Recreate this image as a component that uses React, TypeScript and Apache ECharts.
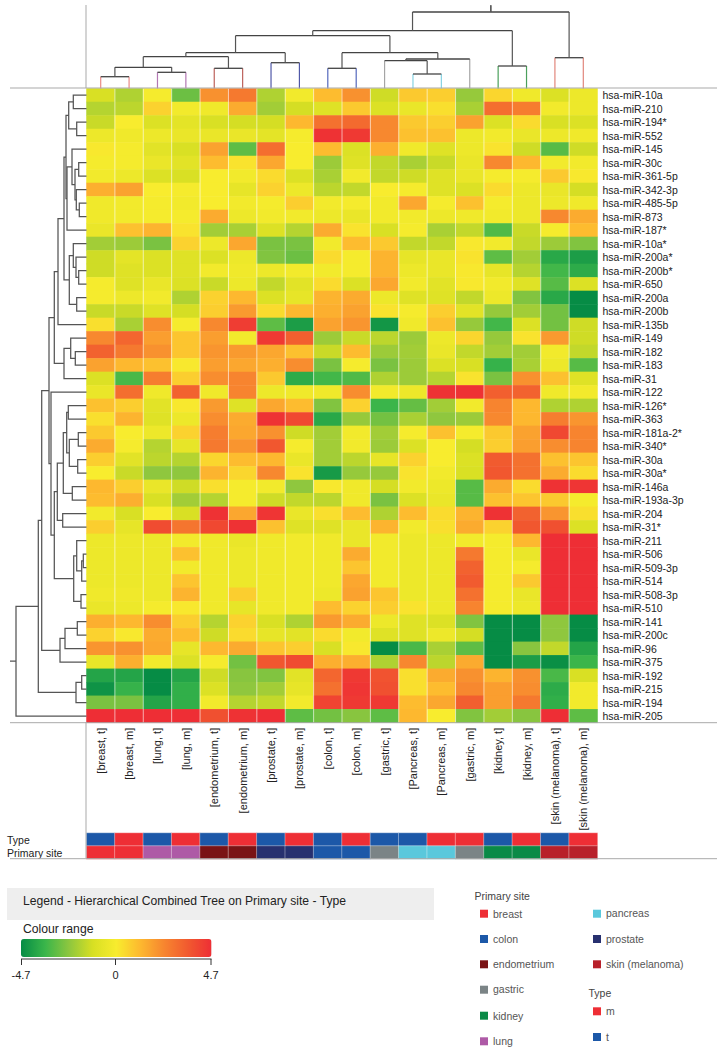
import React, { useEffect, useRef } from "react";
import * as echarts from "echarts";

const FONT = '"Liberation Sans", Arial, sans-serif';

const columnLabels = ["[breast, t]", "[breast, m]", "[lung, t]", "[lung, m]", "[endometrium, t]", "[endometrium, m]", "[prostate, t]", "[prostate, m]", "[colon, t]", "[colon, m]", "[gastric, t]", "[Pancreas, t]", "[Pancreas, m]", "[gastric, m]", "[kidney, t]", "[kidney, m]", "[skin (melanoma), t]", "[skin (melanoma), m]"];

const rowLabels = ["hsa-miR-10a", "hsa-miR-210", "hsa-miR-194*", "hsa-miR-552", "hsa-miR-145", "hsa-miR-30c", "hsa-miR-361-5p", "hsa-miR-342-3p", "hsa-miR-485-5p", "hsa-miR-873", "hsa-miR-187*", "hsa-miR-10a*", "hsa-miR-200a*", "hsa-miR-200b*", "hsa-miR-650", "hsa-miR-200a", "hsa-miR-200b", "hsa-miR-135b", "hsa-miR-149", "hsa-miR-182", "hsa-miR-183", "hsa-miR-31", "hsa-miR-122", "hsa-miR-126*", "hsa-miR-363", "hsa-miR-181a-2*", "hsa-miR-340*", "hsa-miR-30a", "hsa-miR-30a*", "hsa-miR-146a", "hsa-miR-193a-3p", "hsa-miR-204", "hsa-miR-31*", "hsa-miR-211", "hsa-miR-506", "hsa-miR-509-3p", "hsa-miR-514", "hsa-miR-508-3p", "hsa-miR-510", "hsa-miR-141", "hsa-miR-200c", "hsa-miR-96", "hsa-miR-375", "hsa-miR-192", "hsa-miR-215", "hsa-miR-194", "hsa-miR-205"];

const rowValues = [
  [-1.1, -1.8, -0.1, -2.8, 2.1, 2.7, -1.8, -0.2, 1.1, 2.1, -1.3, 0.8, 0.7, -2.2, 0.5, -0.3, -1.0, -0.4],
  [-1.7, -1.6, 0.6, -0.2, -0.3, 1.5, -2.0, -1.2, -0.9, 0.8, -1.0, -0.5, 0.3, -1.9, 3.0, 2.6, -0.2, -0.4],
  [-1.4, 0.0, -1.0, -0.7, -1.1, -1.2, -1.2, 1.2, 2.9, 3.1, 2.3, 0.8, 0.7, 1.7, -1.0, 0.4, -1.1, -1.0],
  [-0.4, -0.3, -0.4, -0.5, -0.5, -0.5, -0.7, -0.1, 4.6, 4.4, 2.3, 1.0, 1.0, -0.4, -0.2, -0.5, -0.4, -0.3],
  [0.1, -0.1, -0.8, -1.1, 1.7, -3.0, 3.0, 0.0, 1.1, -1.0, 1.4, -0.3, -0.9, -0.4, 0.2, -1.3, -3.1, -1.3],
  [-0.1, -0.1, -0.5, -0.8, 1.1, 0.2, 1.6, 0.0, -2.1, -0.9, -1.5, -1.9, -1.4, -0.5, 2.3, 1.2, -0.2, -0.2],
  [-0.2, -0.4, -1.0, -1.1, 0.0, -0.2, 0.4, -1.0, -1.9, -0.2, -1.5, -1.3, -0.9, -0.5, -0.1, -0.1, 0.8, 0.1],
  [1.4, 1.7, 0.0, -0.1, 0.0, -0.6, 0.6, -0.4, -1.6, -1.5, 0.0, -0.1, -0.9, -1.0, 0.4, -0.4, -0.5, -1.2],
  [-0.3, -0.2, -0.1, -0.2, 0.0, -0.2, -0.1, 0.7, -0.2, -0.1, -0.2, 1.6, -0.1, 1.0, -0.1, -0.4, -0.4, -0.3],
  [-0.3, -0.2, -0.1, -0.1, 1.5, -0.4, -0.2, -0.2, -0.4, -0.5, -0.2, -0.2, -0.4, -0.3, -0.2, -0.4, 2.3, 1.5],
  [-0.5, 1.0, 1.3, 0.2, -2.0, -1.9, -1.0, -1.7, 1.5, 0.2, -1.1, -0.1, -1.9, -1.5, -3.2, -1.4, -0.1, 1.1],
  [-2.0, -2.1, -2.6, 0.6, -0.4, 1.6, -2.6, -2.6, -0.2, 1.1, 0.8, -1.5, -1.5, 0.1, -0.2, -1.5, -2.1, -2.5],
  [-1.3, -0.7, -1.0, -0.9, -1.0, -0.4, -2.5, -2.8, 0.4, -0.1, 1.3, -0.6, -0.5, 0.2, -3.0, -2.0, -3.9, -4.2],
  [-1.3, -0.9, -1.0, -0.9, -0.2, -0.3, -0.4, -0.2, -0.2, -0.1, 1.3, -0.4, -0.5, 0.1, -0.6, -1.7, -3.4, -3.8],
  [-0.1, -0.9, -0.5, -1.0, -1.4, -0.4, -1.5, -0.8, 0.4, -1.0, 1.6, -0.2, -0.8, 0.1, -0.2, -0.9, -3.1, -1.0],
  [-0.1, -0.4, -0.2, -1.8, 0.6, 1.2, -1.0, -0.6, 1.3, 1.5, -0.4, -0.9, -0.9, -1.5, -0.4, -2.5, -3.9, -4.7],
  [-1.4, -1.4, -0.9, -1.2, 0.7, 1.9, 0.4, 1.2, 1.4, 1.7, 0.2, -0.1, 0.7, -0.8, -2.2, -2.0, -2.7, -4.7],
  [0.3, -1.9, 2.2, -0.1, 2.3, 4.3, -3.0, -4.2, 1.7, 2.0, -4.4, -0.3, 1.0, -2.2, -3.4, -1.0, -2.7, -1.3],
  [2.3, 3.2, 1.8, 0.9, 1.8, -0.2, 4.4, 3.4, -2.1, -1.4, -1.6, -2.1, -0.4, 0.5, -2.2, 0.2, 1.9, -1.3],
  [3.3, 2.7, 2.1, 0.9, 2.0, 1.9, 1.6, 1.0, -1.4, 1.1, -2.1, -2.0, -0.5, -1.5, -2.0, -2.0, -0.2, -1.5],
  [1.7, 1.2, 1.0, 0.1, 1.8, 1.6, 1.4, 2.2, -2.6, -0.1, -2.6, -2.1, -1.0, -1.1, -3.6, -1.9, -0.4, -3.1],
  [-1.0, -3.3, 2.6, 0.7, 2.2, 2.4, 0.8, -3.8, -3.4, -3.2, -1.8, -2.1, -1.7, 0.2, -2.6, 2.1, 1.0, -0.9],
  [-0.5, 3.0, -0.3, 3.3, -0.3, 2.4, -0.4, -0.3, -0.3, 2.2, -0.2, -0.4, 4.6, 4.6, 3.4, 3.3, -0.3, -0.2],
  [1.0, 0.7, -0.8, 0.1, 1.9, -0.9, 1.6, 1.1, -2.5, 0.6, -3.5, -2.9, -2.0, -0.2, 2.4, 1.2, -1.8, -1.8],
  [0.3, 1.3, -0.9, -0.4, 2.2, 1.5, 4.6, 4.0, -3.9, -2.2, -2.7, -1.9, -2.3, -2.1, 2.3, 1.2, 2.6, 2.0],
  [0.8, 0.0, -0.4, 0.6, 2.6, 1.6, 2.1, -1.3, -2.0, -0.2, -2.0, -0.1, 1.0, -0.1, 0.8, 1.7, 4.0, 2.4],
  [1.5, -0.1, -1.7, -0.6, 2.7, 2.0, 3.6, -0.1, -2.0, -0.2, -2.1, -1.0, 0.0, -1.2, 0.7, 1.8, 2.2, 2.4],
  [0.7, -0.8, -1.6, -1.7, 0.5, 1.1, 1.2, -0.5, -2.0, -1.6, -0.6, 0.6, 0.0, -1.0, 3.5, 2.9, 1.0, 0.9],
  [0.0, -1.4, -2.3, -2.3, 1.3, 0.5, 2.3, 0.2, -4.3, -2.2, -2.2, 0.2, -0.2, -1.1, 3.6, 2.9, 1.5, 0.4],
  [1.2, 0.7, -0.5, -1.3, 0.3, -0.1, -0.2, -2.3, 0.1, -0.3, -1.2, -0.2, -0.4, -3.1, 1.5, 0.4, 4.6, 4.5],
  [1.1, 1.4, -1.1, -2.0, -1.7, -0.1, -1.3, -1.5, -1.6, -0.3, -2.6, -1.0, -0.5, -3.1, 1.0, 0.9, 0.8, -0.1],
  [-0.2, -1.1, 0.0, -1.1, 4.6, 1.6, 4.5, -0.5, 0.3, 1.1, -1.8, 1.1, 0.4, 1.3, 4.6, 3.3, 2.0, 0.3],
  [0.7, -0.6, 3.9, 2.8, 4.0, 4.6, 1.0, -0.9, -0.9, -0.5, 1.3, -0.2, 0.3, 1.5, 0.6, 3.6, 3.8, -1.0],
  [-0.4, -0.4, -0.4, -0.2, -0.3, -0.5, -0.3, -0.2, -0.3, -0.5, -0.2, -0.4, -0.4, -0.2, -0.1, 1.2, 4.7, 4.7],
  [-0.4, -0.4, -0.4, 1.0, -0.3, -0.4, -0.3, -0.2, -0.3, 1.5, -0.2, -0.4, -0.4, 2.7, -0.1, -0.5, 4.7, 4.7],
  [-0.4, -0.4, -0.4, -0.2, -0.3, -0.4, -0.3, -0.2, -0.3, 0.9, -0.2, -0.4, -0.4, 3.3, -0.1, -0.1, 4.7, 4.7],
  [-0.4, -0.4, -0.4, 0.9, -0.3, -0.4, -0.3, -0.2, -0.3, 1.6, -0.2, -0.4, -0.4, 3.5, -0.1, 0.8, 4.7, 4.7],
  [-0.3, -0.3, -0.4, 1.3, -0.3, 0.7, -0.3, -0.2, -0.4, 1.7, 0.9, -0.4, -0.4, 2.9, -0.1, -0.5, 4.7, 4.7],
  [-0.5, -0.4, -0.1, 0.1, -0.3, -0.6, -0.3, -0.2, 1.1, 0.6, 0.7, 0.2, -0.4, 2.4, -0.1, -0.4, 4.7, 4.7],
  [1.4, 1.2, 2.2, 0.7, -1.7, 0.6, -1.1, -1.8, 1.9, 1.5, -0.4, -0.9, -1.0, -2.5, -4.7, -4.7, -2.3, -4.7],
  [0.6, 0.1, 1.5, 1.1, -1.3, 0.4, -0.6, -0.8, 0.4, -0.2, -0.9, -0.9, -0.4, -1.2, -4.7, -4.7, -2.3, -4.7],
  [2.0, 2.1, 1.6, -0.6, 1.2, 1.5, 0.9, 0.7, -1.1, 0.1, -4.7, -3.3, -1.9, -3.0, -4.7, -2.4, -1.5, -4.0],
  [-0.5, 1.4, -0.2, -1.0, -0.1, -2.7, 3.6, 3.9, 1.4, 1.4, -1.8, 2.3, -1.6, 1.5, -4.7, -4.2, -4.6, -3.5],
  [-4.0, -4.0, -4.7, -4.0, -1.3, -2.4, -2.5, -0.8, 3.2, 4.4, 3.7, 0.3, 1.5, 2.1, 1.3, 2.1, -3.3, -1.1],
  [-4.5, -3.6, -4.7, -3.7, -1.0, -2.3, -2.0, -0.6, 2.9, 4.5, 3.8, 0.3, 1.1, 2.3, 1.8, 2.2, -3.8, -0.2],
  [-2.6, -2.6, -4.0, -3.7, -0.2, -1.7, -1.5, -0.2, 4.1, 4.4, 4.4, 1.1, 1.6, 3.4, 1.8, 2.7, -3.7, -0.2],
  [4.7, 4.7, 4.7, 4.7, 3.8, 4.6, 4.7, -3.0, -2.7, -2.4, -3.0, 1.2, 0.0, -2.5, -2.0, -2.4, 4.7, -3.0],
];

const colourStops = ["#068c45", "#39b54a", "#8cc63f", "#d7df23", "#f8ec2e", "#fdb92f", "#f7862f", "#f15a2f", "#ee2e35"];
const colourMin = -4.7;
const colourMax = 4.7;

const siteNames = ["breast", "colon", "endometrium", "gastric", "kidney", "lung", "pancreas", "prostate", "skin (melanoma)"];
const siteColours = ["#ee2e35", "#1c58a8", "#7a1315", "#7b8486", "#0a8a47", "#ae5aa6", "#5ac8dc", "#27306f", "#b8202a"];
const typeNames = ["m", "t"];
const typeColours = ["#ee2e35", "#1c58a8"];

const columnTypes = ["t", "m", "t", "m", "t", "m", "t", "m", "t", "m", "t", "t", "m", "m", "t", "m", "t", "m"];
const columnSites = ["breast", "breast", "lung", "lung", "endometrium", "endometrium", "prostate", "prostate", "colon", "colon", "gastric", "pancreas", "pancreas", "gastric", "kidney", "kidney", "skin (melanoma)", "skin (melanoma)"];
const stripLabels = ["Type", "Primary site"];

// Column tree: [child, child, height, colour of leaf branches]; ids 0-17 are columns, 18+ are merges in order.
const columnMerges: [number, number, number, string][] = [
  [0, 1, 11.8, "#ea8a86"], [2, 3, 16.2, "#b478b4"], [18, 19, 21.2, "#555"], [4, 5, 20.2, "#bd625c"],
  [20, 21, 31.8, "#555"], [6, 7, 25.8, "#5058a8"], [22, 23, 35.8, "#555"], [8, 9, 20.2, "#5468bd"],
  [11, 12, 14.5, "#86d3e2"], [10, 26, 27.8, "#a5a5a5"], [27, 13, 29.5, "#a5a5a5"], [25, 28, 35.8, "#555"],
  [24, 29, 52.8, "#555"], [14, 15, 22.5, "#4ba05c"], [30, 31, 57.8, "#555"], [16, 17, 30.8, "#e2867c"],
  [32, 33, 76.5, "#555"],
];
const columnRootTop = 83.2;

// Row tree: [child, child, x of the join]; ids 0-46 are rows, 47+ are merges in order.
const rowMerges: [number, number, number][] = [
  [0, 1, 73.3], [2, 3, 76.7], [47, 48, 68.7], [5, 6, 78.7], [8, 9, 79.3], [7, 51, 76.3], [50, 52, 75], [4, 53, 72],
  [54, 10, 67], [49, 55, 66], [13, 14, 78.7], [12, 57, 76], [11, 58, 73.3], [15, 16, 76.7], [59, 60, 69.3],
  [56, 61, 64], [62, 17, 58], [19, 20, 75.3], [18, 64, 70.7], [65, 21, 64], [63, 66, 54.3], [23, 24, 68.3],
  [25, 26, 78.3], [27, 28, 77.7], [69, 70, 69.3], [68, 71, 66.7], [29, 30, 72.3], [72, 73, 63.3], [31, 32, 62.7],
  [74, 75, 57.3], [34, 35, 83.3], [77, 36, 81.7], [33, 78, 76.7], [37, 38, 81], [79, 80, 73.7], [76, 81, 54.3],
  [22, 82, 51], [67, 83, 49], [39, 40, 77.3], [85, 41, 65], [86, 42, 60], [84, 87, 41.7], [43, 44, 81.7],
  [89, 45, 76], [88, 90, 38.3], [91, 46, 16],
];
const rowRootX = 10;

const L = 86.5;
const W = 511;
const T = 88.5;
const H = 634.3;

function buildTree(merges: any[], leafCount: number, leafLevel: number, rootLevel: number) {
  const pos: number[] = [];
  const lvl: number[] = [];
  for (let i = 0; i < leafCount; i++) {
    pos[i] = i;
    lvl[i] = leafLevel;
  }
  const links = merges.map((m, k) => {
    const id = leafCount + k;
    pos[id] = (pos[m[0]] + pos[m[1]]) / 2;
    lvl[id] = m[2];
    return [pos[m[0]], pos[m[1]], m[2], lvl[m[0]], lvl[m[1]], m[0] < leafCount ? 1 : 0, m[1] < leafCount ? 1 : 0];
  });
  const root = leafCount + merges.length - 1;
  links.push([pos[root], pos[root], rootLevel, lvl[root], lvl[root], 0, 0]);
  return links;
}

const columnLinks = buildTree(columnMerges, columnLabels.length, 0, columnRootTop);
const rowLinks = buildTree(rowMerges, rowLabels.length, L, rowRootX);

export default function App() {
  const ref = useRef<HTMLDivElement>(null);
  useEffect(() => {
    document.body.style.margin = "0";
    const chart = echarts.init(ref.current!, undefined, { renderer: "svg" });

    const heat: number[][] = [];
    rowValues.forEach((row, y) => row.forEach((v, x) => heat.push([x, y, v])));

    const strip: number[][] = [];
    columnTypes.forEach((t, x) => strip.push([x, 0, t === "m" ? 0 : 1]));
    columnSites.forEach((s, x) => strip.push([x, 1, siteNames.indexOf(s)]));

    const text = (t: string, x: number, y: number, fontSize: number, fill: string, textAlign = "left") => ({
      type: "text",
      x,
      y,
      silent: true,
      style: { text: t, fontSize, fontFamily: FONT, fill, textAlign, textVerticalAlign: "middle" },
    });
    const rule = (x1: number, y1: number, x2: number, y2: number, stroke = "#a9a9a9", lineWidth = 1) => ({
      type: "line",
      silent: true,
      z: 20,
      shape: { x1, y1, x2, y2 },
      style: { stroke, lineWidth },
    });
    const swatch = (x: number, y: number, fill: string) => ({
      type: "rect",
      silent: true,
      shape: { x, y: y - 4, width: 8, height: 8 },
      style: { fill },
    });

    const legendCol1Y = [913.7, 939, 964.3, 989.7, 1015.7, 1041.3];
    const legendCol2Y = [913.7, 939, 964.3];
    const legendTypeY = [1011.3, 1037];
    const legendGraphics: any[] = [];
    siteNames.forEach((n, i) => {
      if (i < 6) {
        legendGraphics.push(swatch(480, legendCol1Y[i], siteColours[i]));
        legendGraphics.push(text(n, 493, legendCol1Y[i] - (i === 3 ? 1 : 0), 10.5, "#555"));
      } else {
        legendGraphics.push(swatch(593, legendCol2Y[i - 6], siteColours[i]));
        legendGraphics.push(text(n, 606, legendCol2Y[i - 6] - 0.5, 10.5, "#555"));
      }
    });
    typeNames.forEach((n, i) => {
      legendGraphics.push(swatch(593, legendTypeY[i], typeColours[i]));
      legendGraphics.push(text(n, 606, legendTypeY[i] - 0.5, 10.5, "#555"));
    });

    chart.setOption({
      animation: false,
      backgroundColor: "#fff",
      textStyle: { fontFamily: FONT },
      grid: [
        { left: L, top: T, width: W, height: H },
        { left: L, top: 833, width: W, height: 26 },
        { left: L, top: 0, width: W, height: T },
        { left: 0, top: T, width: L, height: H },
      ],
      xAxis: [
        {
          type: "category",
          gridIndex: 0,
          data: columnLabels,
          position: "bottom",
          axisLine: { show: false },
          axisTick: { show: false },
          splitLine: { show: false },
          axisLabel: { interval: 0, rotate: 90, margin: 5, fontSize: 11, color: "#222", fontFamily: FONT },
        },
        {
          type: "category",
          gridIndex: 1,
          data: columnLabels,
          axisLine: { show: false },
          axisTick: { show: false },
          axisLabel: { show: false },
        },
        { type: "value", gridIndex: 2, min: -0.5, max: 17.5, show: false },
        { type: "value", gridIndex: 3, min: 0, max: L, show: false },
      ],
      yAxis: [
        {
          type: "category",
          gridIndex: 0,
          data: rowLabels,
          inverse: true,
          position: "right",
          axisLine: { show: false },
          axisTick: { show: false },
          splitLine: { show: false },
          axisLabel: { interval: 0, margin: 5, fontSize: 10.5, color: "#222", fontFamily: FONT },
        },
        {
          type: "category",
          gridIndex: 1,
          data: stripLabels,
          inverse: true,
          axisLine: { show: false },
          axisTick: { show: false },
          axisLabel: { interval: 0, align: "left", margin: 79.5, fontSize: 10.5, color: "#222", fontFamily: FONT },
        },
        { type: "value", gridIndex: 2, min: 0, max: T, show: false },
        { type: "value", gridIndex: 3, min: -0.5, max: 46.5, inverse: true, show: false },
      ],
      visualMap: [
        {
          type: "continuous",
          seriesIndex: 0,
          dimension: 2,
          min: colourMin,
          max: colourMax,
          orient: "horizontal",
          left: 21,
          top: 939,
          itemWidth: 18,
          itemHeight: 190.5,
          padding: 0,
          calculable: false,
          realtime: false,
          showLabel: false,
          hoverLink: false,
          inRange: { color: colourStops },
        },
        {
          type: "piecewise",
          show: false,
          seriesIndex: 1,
          dimension: 2,
          pieces: siteColours.map((color, value) => ({ value, color })),
        },
      ],
      series: [
        {
          type: "heatmap",
          xAxisIndex: 0,
          yAxisIndex: 0,
          data: heat,
          progressive: 0,
          silent: true,
          itemStyle: { borderWidth: 0 },
        },
        {
          type: "heatmap",
          xAxisIndex: 1,
          yAxisIndex: 1,
          data: strip,
          progressive: 0,
          silent: true,
          itemStyle: { borderColor: "rgba(255,255,255,0.6)", borderWidth: 0.6 },
        },
        {
          type: "custom",
          xAxisIndex: 0,
          yAxisIndex: 0,
          silent: true,
          z: 5,
          data: columnLabels.slice(0, -1).map((_, i) => [i, 0]),
          renderItem: (_p: any, api: any) => {
            const half = api.size([1, 1]);
            const top = api.coord([api.value(0), 0]);
            const bottom = api.coord([api.value(0), rowLabels.length - 1]);
            const x = top[0] + half[0] / 2;
            return {
              type: "line",
              shape: { x1: x, y1: top[1] - half[1] / 2, x2: x, y2: bottom[1] + half[1] / 2 },
              style: { stroke: "rgba(255,255,255,0.6)", lineWidth: 1, fill: null },
            };
          },
        },
        {
          type: "custom",
          xAxisIndex: 2,
          yAxisIndex: 2,
          silent: true,
          data: columnLinks,
          renderItem: (p: any, api: any) => {
            const a = api.value(0), b = api.value(1), h = api.value(2), ha = api.value(3), hb = api.value(4);
            const colour = p.dataIndex < columnMerges.length ? columnMerges[p.dataIndex][3] : "#555";
            const ca = api.coord([a, h]), cb = api.coord([b, h]);
            const c0 = api.coord([a, ha]), c1 = api.coord([b, hb]);
            const side = (pts: number[][], leaf: number) => ({
              type: "polyline",
              shape: { points: pts },
              style: { stroke: leaf ? colour : "#555", lineWidth: 1.2, fill: null },
            });
            return {
              type: "group",
              children: [
                side([c0, ca], api.value(5)),
                side([c1, cb], api.value(6)),
                { type: "polyline", shape: { points: [ca, cb] }, style: { stroke: "#444", lineWidth: 1.3, fill: null } },
              ],
            };
          },
        },
        {
          type: "custom",
          xAxisIndex: 3,
          yAxisIndex: 3,
          silent: true,
          data: rowLinks,
          renderItem: (_p: any, api: any) => {
            const a = api.value(0), b = api.value(1), d = api.value(2), da = api.value(3), db = api.value(4);
            const pts = [api.coord([da, a]), api.coord([d, a]), api.coord([d, b]), api.coord([db, b])];
            return { type: "polyline", shape: { points: pts }, style: { stroke: "#555", lineWidth: 1.25, fill: null } };
          },
        },
      ],
      graphic: {
        elements: [
          rule(10, 88, 717, 88),
          rule(10, 722.7, 717, 722.7),
          rule(10, 858.7, 717, 858.7),
          rule(86, 5, 86, 88),
          rule(86, 722, 86, 858),
          { type: "rect", silent: true, shape: { x: 7, y: 888, width: 427, height: 32 }, style: { fill: "#eeeeee" } },
          text("Legend - Hierarchical Combined Tree on Primary site - Type", 23, 901, 12.15, "#222"),
          text("Colour range", 23, 929, 12.2, "#222"),
          rule(21, 959, 211.5, 959, "#333"),
          rule(21.5, 959, 21.5, 965, "#333"),
          rule(115.5, 959, 115.5, 965, "#333"),
          rule(211, 959, 211, 965, "#333"),
          text("-4.7", 21, 975, 11, "#222", "center"),
          text("0", 115.5, 975, 11, "#222", "center"),
          text("4.7", 211, 975, 11, "#222", "center"),
          text("Primary site", 474.5, 895.5, 10.5, "#444"),
          text("Type", 588.5, 992.5, 10.5, "#444"),
          ...legendGraphics,
        ],
      },
    });
    return () => chart.dispose();
  }, []);
  return <div ref={ref} style={{ position: "absolute", left: 0, top: 0, width: 717, height: 1050 }} />;
}
